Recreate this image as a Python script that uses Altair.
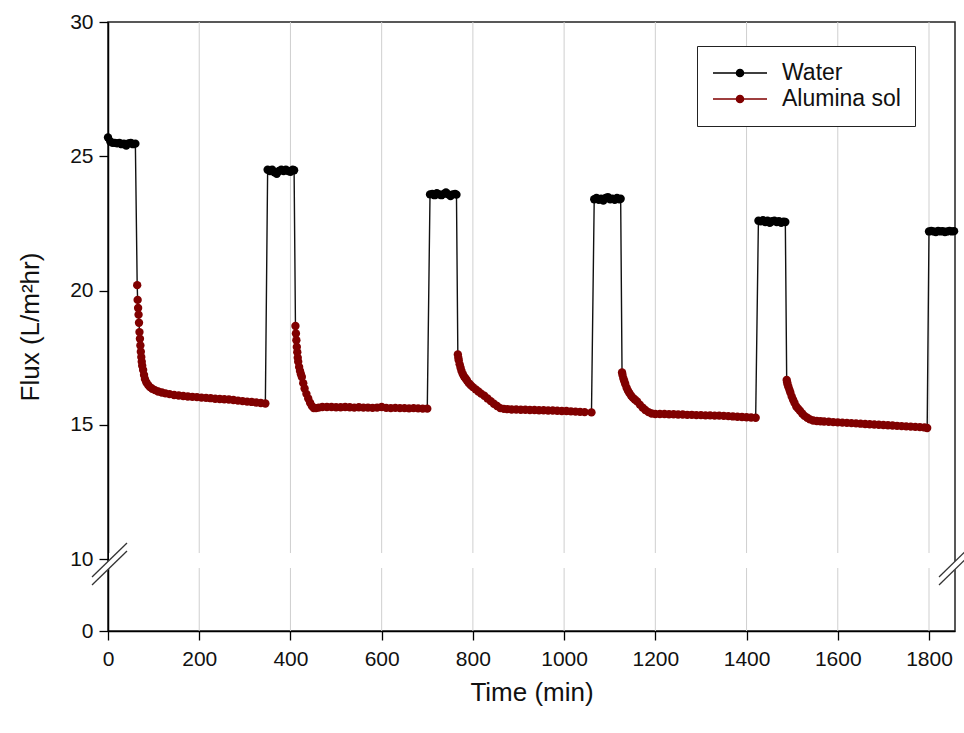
import altair as alt
import pandas as pd

# ---------------- data ----------------
W1_t = [0, 5, 10, 15, 20, 25, 30, 35, 40, 45, 50, 55, 60]
W1_v = [25.70, 25.55, 25.50, 25.50, 25.48, 25.50, 25.45, 25.47, 25.40, 25.48, 25.50, 25.45, 25.47]

A1_t = [64, 65, 66, 67, 68, 69, 70, 71, 72, 73, 74, 75,
        77, 79, 81, 84, 88, 92, 97, 103, 110, 118, 126,
        135, 145, 155, 165, 175, 185, 195, 205, 215, 225, 235,
        245, 255, 265, 275, 285, 295, 305, 315, 325, 335, 345]
A1_v = [20.20, 19.65, 19.35, 19.10, 18.80, 18.45, 18.20, 17.95, 17.72, 17.52, 17.35, 17.20,
        17.04, 16.85, 16.70, 16.58, 16.48, 16.40, 16.34, 16.29, 16.24, 16.20, 16.17,
        16.14, 16.11, 16.09, 16.07, 16.05, 16.04, 16.03, 16.01, 16.00, 15.99, 15.97,
        15.96, 15.95, 15.94, 15.92, 15.90, 15.88, 15.86, 15.85, 15.83, 15.81, 15.79]

W2_t = [350, 355, 360, 365, 370, 375, 380, 385, 390, 395, 400, 405, 408]
W2_v = [24.50, 24.45, 24.50, 24.40, 24.35, 24.45, 24.50, 24.45, 24.50, 24.45, 24.42, 24.50, 24.48]

A2_t = [411, 412, 413, 414, 415, 416, 417,
        419, 421, 423, 425, 428, 431, 435, 439, 443, 447, 451, 456, 462, 470,
        480, 490, 500, 510, 520, 530, 540, 550, 560, 570, 580, 590,
        600, 610, 620, 630, 640, 650, 660, 670, 680, 690, 700]
A2_v = [18.68, 18.40, 18.15, 17.90, 17.70, 17.50, 17.35,
        17.15, 17.00, 16.88, 16.78, 16.55, 16.35, 16.15, 15.98, 15.82, 15.70, 15.62, 15.62, 15.64, 15.66,
        15.66, 15.66, 15.65, 15.65, 15.66, 15.65, 15.64, 15.65, 15.64, 15.64, 15.63, 15.64,
        15.66, 15.63, 15.62, 15.63, 15.62, 15.62, 15.61, 15.62, 15.61, 15.60, 15.60]

W3_t = [706, 711, 716, 721, 726, 731, 736, 741, 746, 751, 756, 761, 764]
W3_v = [23.58, 23.60, 23.55, 23.62, 23.58, 23.55, 23.60, 23.65, 23.58, 23.52, 23.58, 23.60, 23.57]

A3_t = [767, 768, 769, 771, 773, 775, 778, 781, 784, 787, 791, 795, 800,
        806, 812, 818, 825, 832, 839, 846, 853, 860, 868, 876, 885, 895,
        905, 915, 925, 935, 945, 955, 965, 975, 985, 995, 1005, 1015, 1025, 1035, 1045, 1060]
A3_v = [17.62, 17.50, 17.40, 17.25, 17.12, 17.00, 16.88, 16.79, 16.72, 16.65, 16.55, 16.48, 16.40,
        16.32, 16.24, 16.16, 16.08, 15.98, 15.88, 15.78, 15.70, 15.62, 15.59, 15.58, 15.57, 15.57,
        15.56, 15.56, 15.55, 15.55, 15.54, 15.54, 15.53, 15.53, 15.52, 15.51, 15.51, 15.50, 15.49, 15.48, 15.47, 15.46]

W4_t = [1066, 1071, 1076, 1081, 1086, 1091, 1096, 1101, 1106, 1111, 1116, 1121, 1124]
W4_v = [23.40, 23.45, 23.38, 23.42, 23.35, 23.45, 23.48, 23.40, 23.42, 23.38, 23.45, 23.40, 23.42]

A4_t = [1127, 1128, 1130, 1132, 1134, 1137, 1140, 1143, 1147, 1151, 1155, 1160,
        1166, 1172, 1178, 1185, 1192, 1200,
        1210, 1220, 1230, 1240, 1250, 1260, 1270, 1280, 1290, 1300, 1310,
        1320, 1330, 1340, 1350, 1360, 1370, 1380, 1390, 1400, 1410, 1420]
A4_v = [16.95, 16.85, 16.72, 16.62, 16.52, 16.38, 16.27, 16.18, 16.08, 16.00, 15.94, 15.87,
        15.75, 15.64, 15.55, 15.47, 15.42, 15.40,
        15.40, 15.40, 15.39, 15.39, 15.38, 15.38, 15.37, 15.37, 15.36, 15.36, 15.35,
        15.35, 15.34, 15.34, 15.33, 15.32, 15.31, 15.30, 15.29, 15.28, 15.27, 15.26]

W5_t = [1426, 1431, 1436, 1441, 1446, 1451, 1456, 1461, 1466, 1471, 1476, 1481, 1485]
W5_v = [22.60, 22.58, 22.62, 22.55, 22.60, 22.52, 22.58, 22.60, 22.55, 22.58, 22.52, 22.56, 22.55]

A5_t = [1488, 1489, 1490, 1492, 1494, 1496, 1499, 1502, 1505, 1509, 1513, 1517,
        1522, 1527, 1533, 1539, 1546, 1554, 1562, 1570,
        1580, 1590, 1600, 1610, 1620, 1630, 1640, 1650, 1660, 1670, 1680,
        1690, 1700, 1710, 1720, 1730, 1740, 1750, 1760, 1770, 1780, 1790, 1796]
A5_v = [16.67, 16.58, 16.50, 16.40, 16.30, 16.20, 16.05, 15.93, 15.82, 15.68, 15.60, 15.52,
        15.42, 15.33, 15.26, 15.20, 15.16, 15.14, 15.13, 15.12,
        15.11, 15.10, 15.09, 15.08, 15.07, 15.06, 15.05, 15.04, 15.03, 15.02, 15.01,
        15.00, 14.99, 14.98, 14.97, 14.96, 14.95, 14.94, 14.93, 14.92, 14.91, 14.90, 14.88]

W6_t = [1800, 1805, 1810, 1815, 1820, 1825, 1830, 1835, 1840, 1845, 1850, 1855]
W6_v = [22.20, 22.22, 22.20, 22.18, 22.22, 22.20, 22.21, 22.18, 22.20, 22.22, 22.20, 22.21]

SERIES = ["Water", "Alumina sol"]
COLORS = ["#000000", "#800000"]
X_TICKS = [0, 200, 400, 600, 800, 1000, 1200, 1400, 1600, 1800]
Y_TICKS = [0, 10, 15, 20, 25, 30]

segments = [
    (W1_t, W1_v, "Water"), (A1_t, A1_v, "Alumina sol"),
    (W2_t, W2_v, "Water"), (A2_t, A2_v, "Alumina sol"),
    (W3_t, W3_v, "Water"), (A3_t, A3_v, "Alumina sol"),
    (W4_t, W4_v, "Water"), (A4_t, A4_v, "Alumina sol"),
    (W5_t, W5_v, "Water"), (A5_t, A5_v, "Alumina sol"),
    (W6_t, W6_v, "Water"),
]
frames = [pd.DataFrame({"time": t, "flux": v, "series": s}) for t, v, s in segments]
df = pd.concat(frames, ignore_index=True).sort_values("time").reset_index(drop=True)

# ---------------- layout ----------------
W, H = 847, 609
BREAK_PX = 537  # pixel position of y = 10 (broken axis)

xscale = alt.Scale(domain=[0, 1857], nice=False, zero=False)
yscale = alt.Scale(domain=[0, 10, 30], range=[H, BREAK_PX, 0], nice=False, zero=False)

FONT = "Liberation Sans"
TXT = "#111111"

xaxis = alt.Axis(values=X_TICKS, format="d", title="Time (min)", grid=False, tickSize=9,
                 tickWidth=1.3, tickColor="black", domainColor="black", domainWidth=1.5,
                 labelFontSize=21, labelColor=TXT, labelPadding=8, labelFlush=False,
                 labelOverlap=False, titleFontSize=26, titleFontWeight="normal",
                 titleColor=TXT, titlePadding=10)
yaxis = alt.Axis(values=Y_TICKS, format="d", title="Flux (L/m²hr)", grid=False, tickSize=9,
                 tickWidth=1.3, tickColor="black", domainColor="black", domainWidth=1.5,
                 labelFontSize=21, labelColor=TXT, labelPadding=6, labelFlush=False,
                 labelOverlap=False, titleFontSize=26, titleFontWeight="normal",
                 titleColor=TXT, titlePadding=26)

# grid lines
grid = alt.Chart(pd.DataFrame({"time": X_TICKS[1:]})).mark_rule(
    color="#cfcfcf", strokeWidth=1
).encode(x=alt.X("time:Q", scale=xscale, axis=xaxis))

# white band where the axis is broken
band = alt.Chart(pd.DataFrame({"y1": [10.22], "y2": [8.75]})).mark_rect(color="white").encode(
    y=alt.Y("y1:Q", scale=yscale, axis=yaxis), y2="y2:Q",
    x=alt.value(1), x2=alt.value(W - 1)
)

line = alt.Chart(df).mark_line(color="#111111", strokeWidth=1.4).encode(
    x=alt.X("time:Q", scale=xscale, axis=xaxis),
    y=alt.Y("flux:Q", scale=yscale, axis=yaxis),
    order="time:Q",
)

LEG_PATH = ("M-1,-0.03L1,-0.03L1,0.03L-1,0.03Z "
            "M-0.16,0A0.16,0.16,0,1,1,0.16,0A0.16,0.16,0,1,1,-0.16,0Z")

points = alt.Chart(df).mark_point(filled=True, size=70, opacity=1, strokeWidth=0).encode(
    x=alt.X("time:Q", scale=xscale, axis=xaxis),
    y=alt.Y("flux:Q", scale=yscale, axis=yaxis),
    color=alt.Color("series:N", scale=alt.Scale(domain=SERIES, range=COLORS),
                    legend=alt.Legend(title=None, orient="none", legendX=589, legendY=24,
                                      symbolType=LEG_PATH, symbolSize=2916,
                                      symbolStrokeWidth=0, clipHeight=26,
                                      labelFontSize=23, labelColor=TXT, labelOffset=15,
                                      padding=14, rowPadding=0, symbolOffset=2,
                                      strokeColor="#222222", fillColor="white")),
)

# axis-break marks (decoration)
one = pd.DataFrame({"k": [0]})


def slash(x1, y1, x2, y2, color, width):
    return alt.Chart(one).mark_rule(color=color, strokeWidth=width).encode(
        x=alt.value(x1), y=alt.value(y1), x2=alt.value(x2), y2=alt.value(y2))


breaks = []
for ax in (0, W):
    breaks.append(slash(ax - 16, 559, ax + 19, 525, "white", 6))
    breaks.append(slash(ax - 16, 555, ax + 19, 521, "#333333", 1.3))
    breaks.append(slash(ax - 16, 563, ax + 19, 529, "#333333", 1.3))

chart = alt.layer(grid, band, line, points, *breaks).properties(
    width=W, height=H,
    autosize=alt.AutoSizeParams(type="none"),
    padding={"left": 108, "top": 22, "right": 9, "bottom": 102},
).configure(font=FONT).configure_view(stroke="#222222", strokeWidth=1.5)

chart.save("out.html", embed_options={"renderer": "svg", "actions": False})
